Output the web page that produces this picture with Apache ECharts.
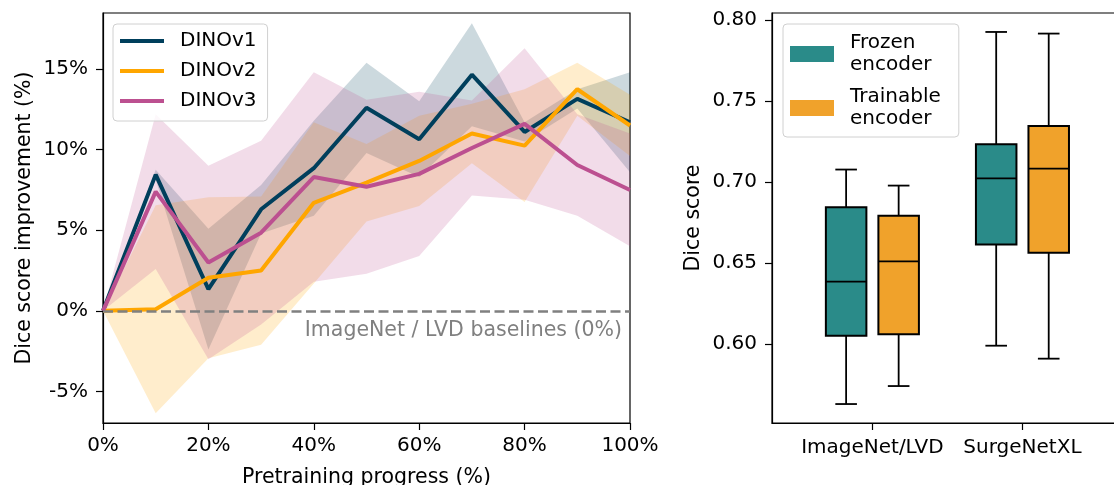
<!DOCTYPE html>
<html><head><meta charset="utf-8">
<script src="https://cdn.jsdelivr.net/npm/echarts@6/dist/echarts.min.js"></script>
<style>html,body{margin:0;padding:0;background:#fff}#c{width:1114px;height:485px}</style>
</head><body><div id="c"></div>
<script>
// ---- data ----
const progress = [0, 10, 20, 30, 40, 50, 60, 70, 80, 90, 100];
const dinov1Mean = [0, 8.45, 1.35, 6.3, 8.85, 12.6, 10.65, 14.65, 11.1, 13.15, 11.7];
const dinov2Mean = [0, 0.1, 2.05, 2.5, 6.7, 7.95, 9.3, 11.0, 10.25, 13.75, 11.5];
const dinov3Mean = [0, 7.4, 3.0, 4.85, 8.3, 7.7, 8.5, 10.1, 11.6, 9.05, 7.5];
const dinov1Std = [0, 0.3, 3.75, 1.5, 2.95, 2.8, 2.35, 3.2, 0.6, 0.6, 3.1];
const dinov2Std = [0, 6.45, 5.0, 4.6, 5.0, 2.4, 2.8, 1.85, 3.5, 1.65, 1.9];
const dinov3Std = [0, 4.8, 6.0, 5.7, 6.5, 5.4, 5.1, 2.95, 4.7, 3.15, 3.5];
const leftYTicks = [-5, 0, 5, 10, 15];

const boxCategories = ['ImageNet/LVD', 'SurgeNetXL'];
// [low whisker, Q1, median, Q3, high whisker]
const frozenStats = [[0.563, 0.6052, 0.6385, 0.6845, 0.7077], [0.599, 0.6615, 0.7022, 0.7233, 0.7926]];
const trainableStats = [[0.5741, 0.606, 0.651, 0.6792, 0.6978], [0.591, 0.6563, 0.7083, 0.7346, 0.7916]];
const rightYTicks = [0.60, 0.65, 0.70, 0.75, 0.80];

// ---- styling ----
const FONT = 'DejaVu Sans';
const FS = 20;
const FT = 20.5;
const C1 = '#003f5c', C2 = '#ffa600', C3 = '#bc5090';
const TEAL = '#2a8b89', ORANGE = '#f0a22b';

function bandSeries(color, mean, std) {
  return {
    type: 'custom', xAxisIndex: 0, yAxisIndex: 0, z: 1, silent: true,
    data: progress.map((x, i) => [x, mean[i] - std[i], mean[i] + std[i]]),
    encode: { x: 0, y: [1, 2] },
    renderItem: function (params, api) {
      if (params.dataIndexInside !== 0) return;
      const n = params.dataInsideLength;
      const up = [], lo = [];
      for (let i = 0; i < n; i++) {
        up.push(api.coord([api.value(0, i), api.value(2, i)]));
        lo.push(api.coord([api.value(0, i), api.value(1, i)]));
      }
      return { type: 'polygon', shape: { points: up.concat(lo.reverse()) }, style: { fill: color, opacity: 0.2 } };
    }
  };
}
function lineSeries(name, color, mean) {
  return {
    type: 'line', name: name, xAxisIndex: 0, yAxisIndex: 0, z: 3,
    data: progress.map((x, i) => [x, mean[i]]),
    symbol: 'none', showSymbol: false, color: color,
    lineStyle: { width: 4, color: color }, emphasis: { disabled: true }
  };
}
const BOX_HALF = 0.135, CAP_HALF = 0.072;
function boxSeries(name, color, stats, offset) {
  return {
    type: 'custom', name: name, xAxisIndex: 1, yAxisIndex: 1, z: 2,
    itemStyle: { color: color }, color: color,
    data: stats.map((s, i) => [i].concat(s)),
    encode: { x: 0, y: [1, 2, 3, 4, 5] },
    renderItem: function (params, api) {
      const cx = api.value(0) + offset;
      const pLow = api.coord([cx, api.value(1)]);
      const pQ1 = api.coord([cx, api.value(2)]);
      const pMed = api.coord([cx, api.value(3)]);
      const pQ3 = api.coord([cx, api.value(4)]);
      const pHigh = api.coord([cx, api.value(5)]);
      const xl = api.coord([cx - BOX_HALF, 0.7])[0];
      const xr = api.coord([cx + BOX_HALF, 0.7])[0];
      const cl = api.coord([cx - CAP_HALF, 0.7])[0];
      const cr = api.coord([cx + CAP_HALF, 0.7])[0];
      const ls = { stroke: '#000', lineWidth: 1.8 };
      return {
        type: 'group', children: [
          { type: 'line', shape: { x1: pLow[0], y1: pLow[1], x2: pQ1[0], y2: pQ1[1] }, style: ls },
          { type: 'line', shape: { x1: pQ3[0], y1: pQ3[1], x2: pHigh[0], y2: pHigh[1] }, style: ls },
          { type: 'line', shape: { x1: cl, y1: pLow[1], x2: cr, y2: pLow[1] }, style: ls },
          { type: 'line', shape: { x1: cl, y1: pHigh[1], x2: cr, y2: pHigh[1] }, style: ls },
          { type: 'rect', shape: { x: xl, y: pQ3[1], width: xr - xl, height: pQ1[1] - pQ3[1] }, style: { fill: color, stroke: '#000', lineWidth: 2 } },
          { type: 'line', shape: { x1: xl, y1: pMed[1], x2: xr, y2: pMed[1] }, style: ls }
        ]
      };
    }
  };
}

const axisCommon = {
  axisLine: { show: true, onZero: false, lineStyle: { color: '#000', width: 1.2 } },
  axisTick: { show: true, length: 7, lineStyle: { color: '#000', width: 1.2 } },
  splitLine: { show: false },
  axisLabel: { fontSize: FS, color: '#000', fontFamily: FONT },
  nameTextStyle: { fontSize: FT, color: '#000', fontFamily: FONT }
};

const option = {
  animation: false,
  backgroundColor: '#fff',
  textStyle: { fontFamily: FONT },
  grid: [
    { left: 103, top: 13, width: 527, height: 410, show: true, borderColor: '#000', borderWidth: 1.2, backgroundColor: 'transparent', containLabel: false, outerBoundsMode: 'none' },
    { left: 772, top: 13, width: 360, height: 410, show: true, borderColor: '#000', borderWidth: 1.2, backgroundColor: 'transparent', containLabel: false, outerBoundsMode: 'none' }
  ],
  legend: [
    {
      data: ['DINOv1', 'DINOv2', 'DINOv3'], orient: 'vertical', left: 113, top: 24,
      icon: 'rect', itemWidth: 44, itemHeight: 4, itemGap: 10,
      padding: [7, 11, 10, 7], backgroundColor: 'rgba(255,255,255,0.8)',
      borderColor: '#d0d0d0', borderWidth: 1, borderRadius: 4,
      textStyle: { fontSize: FS, color: '#000', fontFamily: FONT, lineHeight: 20, padding: [0, 0, 0, 11] },
      selectedMode: false
    },
    {
      data: ['Frozen\nencoder', 'Trainable\nencoder'], orient: 'vertical', left: 783, top: 24,
      icon: 'rect', itemWidth: 44, itemHeight: 16, itemGap: 10,
      itemStyle: { borderWidth: 0 },
      padding: [8, 18, 7, 7], backgroundColor: 'rgba(255,255,255,0.8)',
      borderColor: '#d0d0d0', borderWidth: 1, borderRadius: 4,
      textStyle: { fontSize: FS, color: '#000', fontFamily: FONT, lineHeight: 22, padding: [0, 0, 0, 11] },
      selectedMode: false
    }
  ],
  xAxis: [
    Object.assign({}, axisCommon, {
      type: 'value', gridIndex: 0, min: 0, max: 100, interval: 20,
      name: 'Pretraining progress (%)', nameLocation: 'middle', nameGap: 44,
      axisLabel: Object.assign({}, axisCommon.axisLabel, { margin: 13, formatter: v => v + '%' })
    }),
    Object.assign({}, axisCommon, {
      type: 'value', gridIndex: 1, min: -0.669, max: 1.73,
      axisTick: Object.assign({}, axisCommon.axisTick, { customValues: [0, 1] }),
      axisLabel: Object.assign({}, axisCommon.axisLabel, { margin: 15, customValues: [0, 1], formatter: v => boxCategories[Math.round(v)] })
    })
  ],
  yAxis: [
    Object.assign({}, axisCommon, {
      type: 'value', gridIndex: 0, min: -6.96, max: 18.48,
      name: 'Dice score improvement (%)', nameLocation: 'middle', nameGap: 68, nameRotate: 90,
      axisTick: Object.assign({}, axisCommon.axisTick, { customValues: leftYTicks }),
      axisLabel: Object.assign({}, axisCommon.axisLabel, { margin: 15, customValues: leftYTicks, formatter: v => v + '%' })
    }),
    Object.assign({}, axisCommon, {
      type: 'value', gridIndex: 1, min: 0.5513, max: 0.8043,
      name: 'Dice score', nameLocation: 'middle', nameGap: 68, nameRotate: 90,
      axisTick: Object.assign({}, axisCommon.axisTick, { customValues: rightYTicks }),
      axisLabel: Object.assign({}, axisCommon.axisLabel, { margin: 15, customValues: rightYTicks, formatter: v => v.toFixed(2) })
    })
  ],
  series: [
    bandSeries(C1, dinov1Mean, dinov1Std),
    bandSeries(C2, dinov2Mean, dinov2Std),
    bandSeries(C3, dinov3Mean, dinov3Std),
    lineSeries('DINOv1', C1, dinov1Mean),
    lineSeries('DINOv2', C2, dinov2Mean),
    lineSeries('DINOv3', C3, dinov3Mean),
    {
      type: 'line', xAxisIndex: 0, yAxisIndex: 0, z: 4, data: [],
      markLine: {
        silent: true, symbol: 'none', animation: false,
        data: [{ yAxis: 0 }],
        lineStyle: { type: [10, 4.5], color: '#808080', width: 2.5 },
        label: { show: true, position: 'insideEndBottom', formatter: 'ImageNet / LVD baselines (0%)', fontSize: FT, color: '#808080', fontFamily: FONT, distance: [8, 9] },
        emphasis: { disabled: true }
      }
    },
    boxSeries('Frozen\nencoder', TEAL, frozenStats, -0.175),
    boxSeries('Trainable\nencoder', ORANGE, trainableStats, 0.175)
  ]
};
const chart = echarts.init(document.getElementById('c'), null, { renderer: 'canvas' });
chart.setOption(option);
</script>
</body></html>
